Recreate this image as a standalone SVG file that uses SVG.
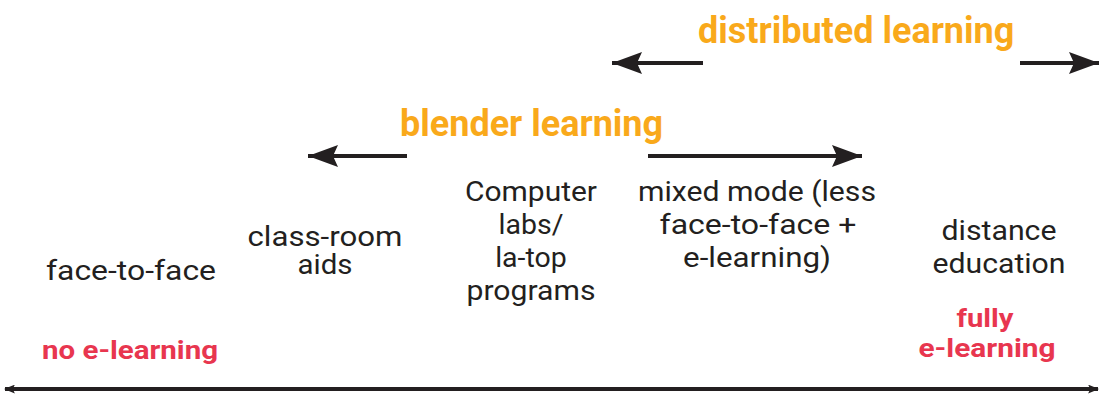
<svg xmlns="http://www.w3.org/2000/svg" width="1101" height="397" viewBox="0 0 1101 397">
<style>
.t{font-family:Roboto,"Liberation Sans",sans-serif;font-size:28.5px;fill:#231f20;text-anchor:middle}
.o{font-family:Roboto,"Liberation Sans",sans-serif;font-weight:bold;font-size:36px;fill:#f9a91b}
.r{font-family:Roboto,"Liberation Sans",sans-serif;font-weight:bold;font-size:26px;fill:#e8364f}
.ln{stroke:#231f20;stroke-width:4;fill:none}
</style>
<defs>
<marker id="ah" viewBox="0 0 10 8" refX="9" refY="4" markerWidth="11" markerHeight="9" markerUnits="userSpaceOnUse" orient="auto-start-reverse">
<path d="M0,0 L10,4 L0,8 L2,4 Z" fill="#231f20"/>
</marker>
<marker id="big" viewBox="0 0 30 22" refX="30" refY="11" markerWidth="32" markerHeight="22" markerUnits="userSpaceOnUse" orient="auto-start-reverse">
<path d="M0,0 L30,11 L0,22 L5,11 Z" fill="#231f20"/>
</marker>
</defs>
<g id="label-distributed"><text class="o" x="698" y="43">distributed learning</text></g>
<g id="label-blender"><text class="o" x="400" y="136">blender learning</text></g>
<g id="node-face"><text class="t" x="131" y="280" textLength="170" lengthAdjust="spacingAndGlyphs">face-to-face</text></g>
<g id="node-classroom"><text class="t" x="325" y="246" textLength="155" lengthAdjust="spacingAndGlyphs">class-room</text><text class="t" x="325" y="274" textLength="55" lengthAdjust="spacingAndGlyphs">aids</text></g>
<g id="node-computer"><text class="t" x="531" y="201" textLength="132" lengthAdjust="spacingAndGlyphs">Computer</text><text class="t" x="531" y="234">labs/</text><text class="t" x="531" y="267">la-top</text><text class="t" x="531" y="300" textLength="129" lengthAdjust="spacingAndGlyphs">programs</text></g>
<g id="node-mixed"><text class="t" x="757" y="201" textLength="238" lengthAdjust="spacingAndGlyphs">mixed mode (less</text><text class="t" x="758" y="234" textLength="197" lengthAdjust="spacingAndGlyphs">face-to-face +</text><text class="t" x="757" y="267" textLength="148" lengthAdjust="spacingAndGlyphs">e-learning)</text></g>
<g id="node-distance"><text class="t" x="999" y="240" textLength="115" lengthAdjust="spacingAndGlyphs">distance</text><text class="t" x="999" y="273" textLength="133" lengthAdjust="spacingAndGlyphs">education</text></g>
<g id="label-full"><text class="r" x="985" y="327" text-anchor="middle" textLength="57" lengthAdjust="spacingAndGlyphs">fully</text><text class="r" x="987" y="357" text-anchor="middle" textLength="137" lengthAdjust="spacingAndGlyphs">e-learning</text></g>
<g id="label-none"><text class="r" x="42" y="359" textLength="176" lengthAdjust="spacingAndGlyphs">no e-learning</text></g>
<g id="connectors">
<line class="ln" x1="703" y1="63" x2="612" y2="63" marker-end="url(#big)"/>
<line class="ln" x1="1020" y1="63" x2="1099" y2="63" marker-end="url(#big)"/>
<line class="ln" x1="407" y1="156" x2="308" y2="156" marker-end="url(#big)"/>
<line class="ln" x1="648" y1="156" x2="862" y2="156" marker-end="url(#big)"/>
<line class="ln" x1="5" y1="389" x2="1098" y2="389" marker-start="url(#ah)" marker-end="url(#ah)"/>
</g>
</svg>
